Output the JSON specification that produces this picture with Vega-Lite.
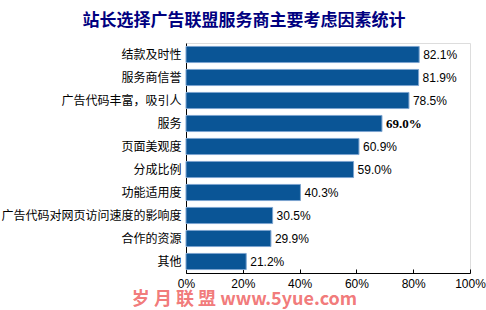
{
  "$schema": "https://vega.github.io/schema/vega-lite/v6.json",
  "autosize": "none",
  "width": 284,
  "height": 230,
  "padding": {"left": 186, "top": 43, "right": 16, "bottom": 37},
  "background": "white",
  "title": {
    "text": "站长选择广告联盟服务商主要考虑因素统计",
    "font": "Noto Sans CJK SC",
    "fontSize": 17,
    "fontWeight": "bold",
    "color": "#000080",
    "anchor": "middle",
    "dx": -84,
    "offset": 13
  },
  "data": {
    "values": [
      {"cat": "结款及时性", "value": 0.821},
      {"cat": "服务商信誉", "value": 0.819},
      {"cat": "广告代码丰富，吸引人", "value": 0.785},
      {"cat": "服务", "value": 0.690},
      {"cat": "页面美观度", "value": 0.609},
      {"cat": "分成比例", "value": 0.590},
      {"cat": "功能适用度", "value": 0.403},
      {"cat": "广告代码对网页访问速度的影响度", "value": 0.305},
      {"cat": "合作的资源", "value": 0.299},
      {"cat": "其他", "value": 0.212}
    ]
  },
  "encoding": {
    "y": {
      "field": "cat",
      "type": "nominal",
      "sort": null,
      "scale": {"paddingInner": 0.3, "paddingOuter": 0.15},
      "axis": {
        "title": null,
        "bandPosition": 0,
        "domainColor": "black",
        "tickColor": "black",
        "tickSize": -3,
        "labelFont": "Noto Sans CJK SC",
        "labelFontSize": 12,
        "labelColor": "black",
        "labelPadding": 8,
        "labelLimit": 250
      }
    },
    "x": {
      "field": "value",
      "type": "quantitative",
      "scale": {"domain": [0, 1]},
      "axis": {
        "values": [0, 0.2, 0.4, 0.6, 0.8, 1],
        "format": ".0%",
        "grid": false,
        "domainColor": "black",
        "tickColor": "black",
        "tickSize": -4,
        "labelFont": "Liberation Sans",
        "labelFontSize": 12,
        "labelColor": "black",
        "labelPadding": 9,
        "labelFlush": false,
        "title": "岁 月 联 盟  www.5yue.com",
        "titleFont": "Noto Sans CJK SC",
        "titleFontSize": 18,
        "titleFontWeight": "bold",
        "titleColor": "#f06a6a",
        "titleOpacity": 0.9,
        "titleX": 58,
        "titleY": 26,
        "titleAlign": "center",
        "titleBaseline": "middle"
      }
    }
  },
  "layer": [
    {
      "mark": {"type": "bar", "color": "#0A5596", "stroke": "#7BA3CF", "strokeWidth": 1}
    },
    {
      "transform": [{"filter": "datum.cat != '服务'"}],
      "mark": {"type": "text", "align": "left", "dx": 4, "font": "Liberation Sans", "fontSize": 12, "color": "black"},
      "encoding": {"text": {"field": "value", "type": "quantitative", "format": ".1%"}}
    },
    {
      "transform": [{"filter": "datum.cat == '服务'"}],
      "mark": {"type": "text", "align": "left", "dx": 4, "font": "Liberation Serif", "fontSize": 13, "fontWeight": "bold", "color": "black"},
      "encoding": {"text": {"field": "value", "type": "quantitative", "format": ".1%"}}
    }
  ]
}
